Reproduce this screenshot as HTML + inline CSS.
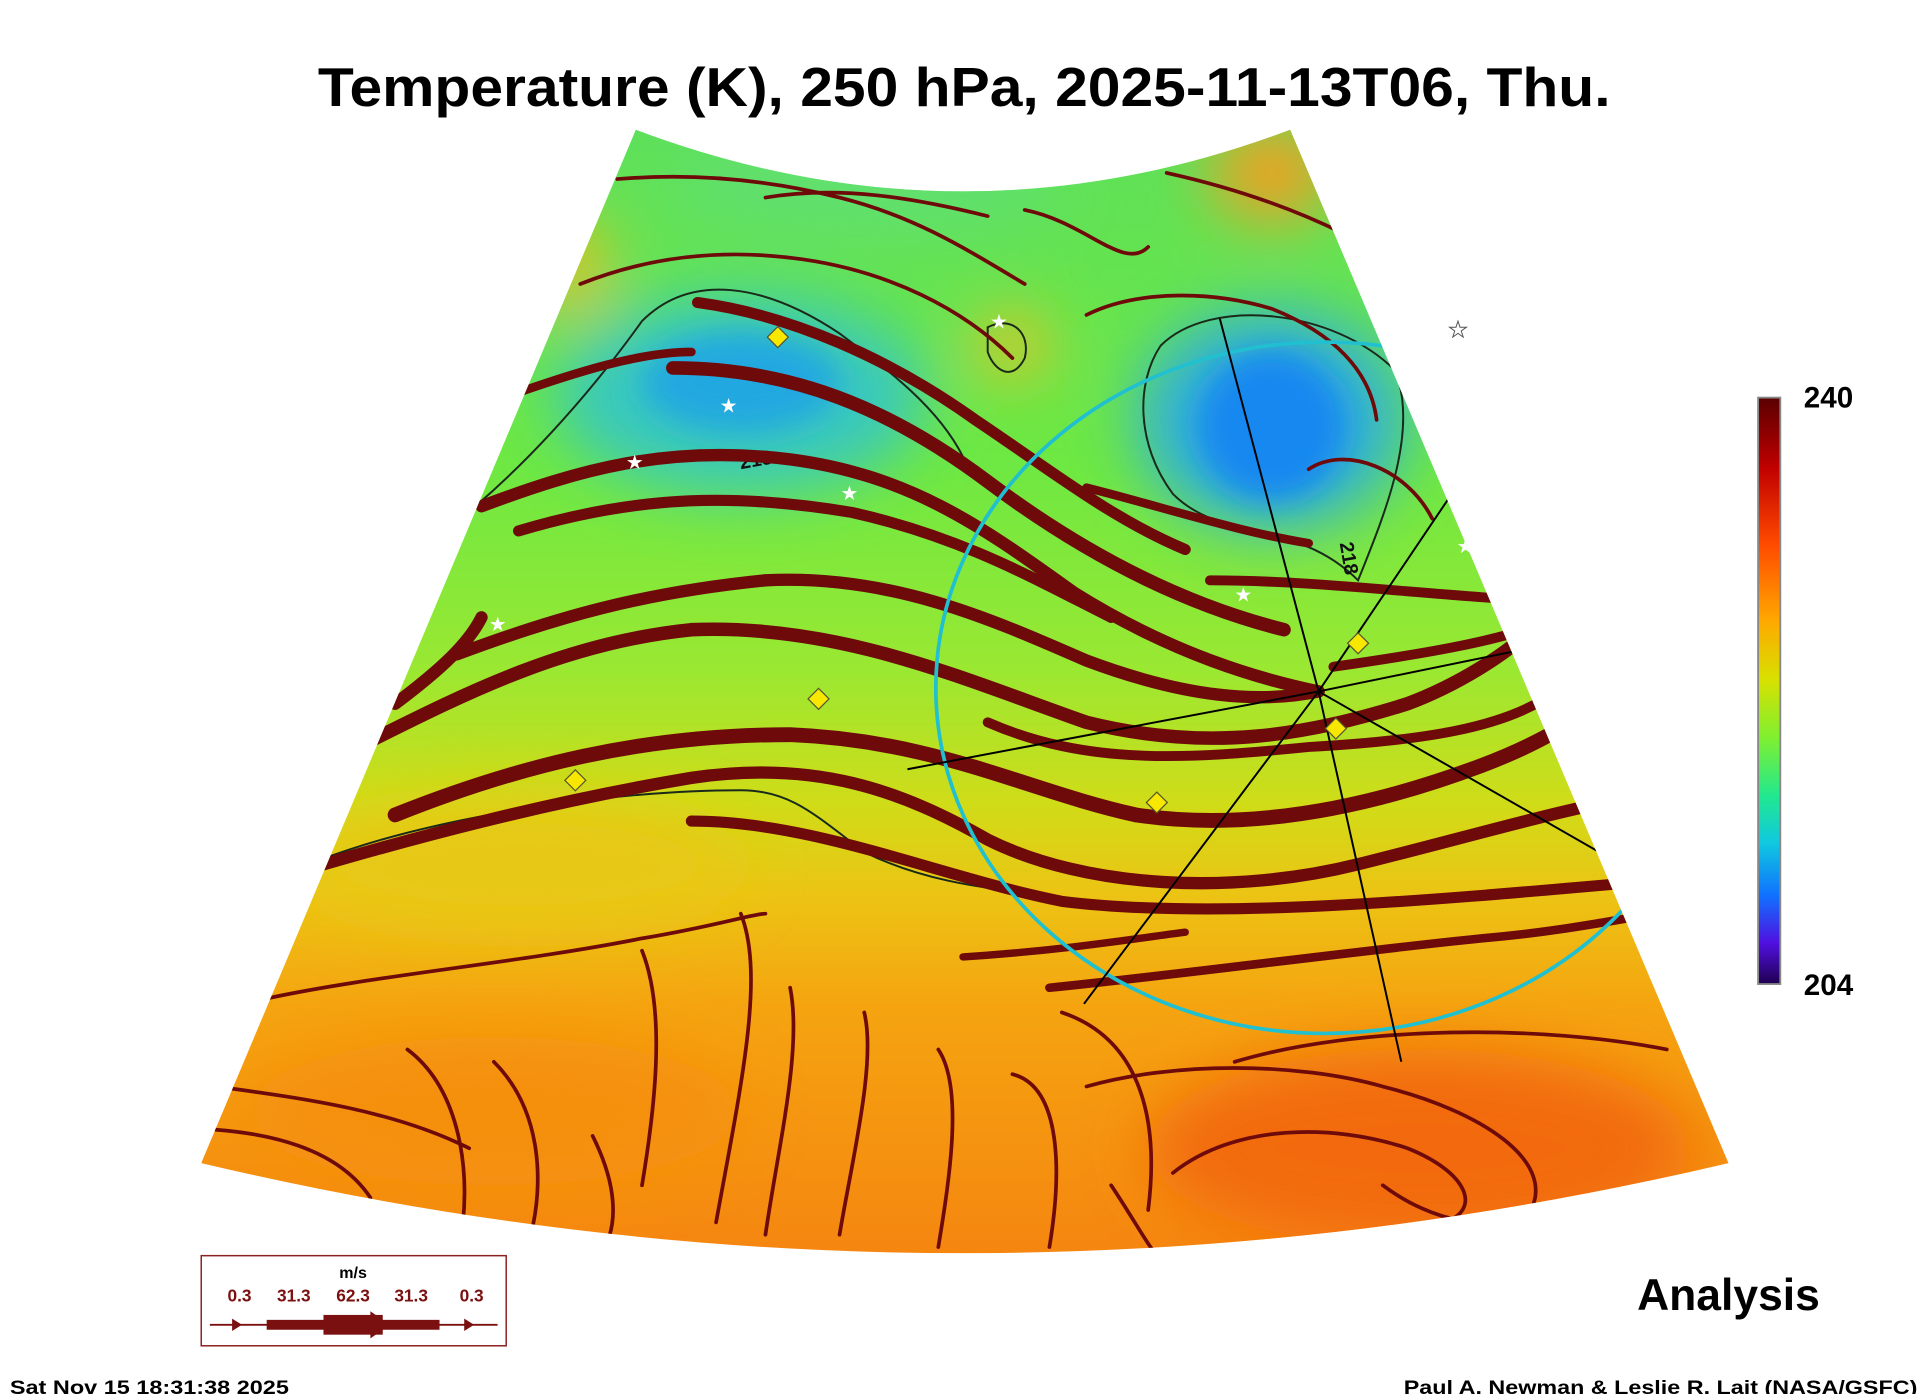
<!DOCTYPE html>
<html><head><meta charset="utf-8"><style>
html,body{margin:0;padding:0;background:#fff;}
svg{display:block;font-family:"Liberation Sans",sans-serif;}
</style></head><body>
<svg width="1926" height="1394" viewBox="0 0 1560 1129" xmlns="http://www.w3.org/2000/svg">
<defs>
<clipPath id="sec"><path d="M515,105 Q780,205 1045,105 L1400,942 Q780,1088 163,942 Z"/></clipPath>
<linearGradient id="bg2" x1="0" y1="105" x2="0" y2="1015" gradientUnits="userSpaceOnUse">
<stop offset="0" stop-color="#5ee05a"/>
<stop offset="0.3" stop-color="#6ee842"/>
<stop offset="0.48" stop-color="#9ae832"/>
<stop offset="0.6" stop-color="#d0dc18"/>
<stop offset="0.68" stop-color="#ecc414"/>
<stop offset="0.78" stop-color="#f5a410"/>
<stop offset="1" stop-color="#f58610"/>
</linearGradient>
<linearGradient id="cb" x1="0" y1="0" x2="0" y2="1">
<stop offset="0" stop-color="#5a0000"/>
<stop offset="0.12" stop-color="#c00000"/>
<stop offset="0.25" stop-color="#ff4a00"/>
<stop offset="0.38" stop-color="#ffa800"/>
<stop offset="0.48" stop-color="#d8e000"/>
<stop offset="0.58" stop-color="#80f030"/>
<stop offset="0.68" stop-color="#20e890"/>
<stop offset="0.76" stop-color="#10c8e0"/>
<stop offset="0.85" stop-color="#1070ff"/>
<stop offset="0.93" stop-color="#5010e0"/>
<stop offset="1" stop-color="#200050"/>
</linearGradient>
<filter id="blur" x="-50%" y="-50%" width="200%" height="200%"><feGaussianBlur stdDeviation="25"/></filter>
<filter id="blur2" x="-50%" y="-50%" width="200%" height="200%"><feGaussianBlur stdDeviation="12"/></filter>
</defs>

<text x="781" y="86" text-anchor="middle" font-size="44" font-weight="bold" textLength="1047" lengthAdjust="spacingAndGlyphs">Temperature (K), 250 hPa, 2025-11-13T06, Thu.</text>

<g clip-path="url(#sec)">
<rect x="150" y="100" width="1260" height="1000" fill="url(#bg2)"/>
<g filter="url(#blur)">
<ellipse cx="600" cy="320" rx="150" ry="80" fill="#38c8c0"/>
<ellipse cx="1030" cy="340" rx="110" ry="90" fill="#30b0d8"/>
<ellipse cx="820" cy="280" rx="30" ry="25" fill="#f0c020"/>
<ellipse cx="1150" cy="930" rx="220" ry="80" fill="#f26a10"/>
<ellipse cx="400" cy="900" rx="200" ry="60" fill="#f59010"/>
<ellipse cx="700" cy="150" rx="160" ry="40" fill="#60e070"/>
<ellipse cx="1030" cy="140" rx="50" ry="40" fill="#f0a020"/>
<ellipse cx="460" cy="215" rx="30" ry="40" fill="#e8c020"/>
<ellipse cx="420" cy="700" rx="180" ry="50" fill="#e8c818"/>
</g>
<g filter="url(#blur2)">
<ellipse cx="600" cy="310" rx="80" ry="40" fill="#20a8e0"/>
<ellipse cx="1030" cy="345" rx="60" ry="60" fill="#1888f0"/>
</g>

<g fill="none" stroke="#1a2a1a" stroke-width="1.6">
<path d="M385,410 C420,380 470,330 520,260 C560,220 620,230 680,270 C720,300 760,330 780,370"/>
<path d="M940,280 C980,240 1080,250 1130,300 C1150,350 1120,420 1100,470 C1050,420 990,440 950,400 C920,360 920,310 940,280Z"/>
<path d="M800,265 C820,255 835,270 830,290 C820,310 805,300 800,285Z"/>
<path d="M250,700 C350,660 500,640 600,640 C640,640 660,660 700,690 C760,720 820,720 880,730"/>
</g>
<text x="600" y="380" font-size="16" font-weight="bold" fill="#111" transform="rotate(-10 600 380)">218</text>
<text x="1085" y="440" font-size="16" font-weight="bold" fill="#111" transform="rotate(80 1085 440)">218</text>

<g fill="none" stroke="#6e0a0a" stroke-width="3" stroke-linecap="round">
<path d="M500,145 C560,140 620,145 680,160 C740,175 780,200 830,230"/>
<path d="M620,160 C680,150 740,160 800,175"/>
<path d="M830,170 C880,180 910,220 930,200"/>
<path d="M945,140 C990,150 1040,165 1090,190"/>
<path d="M470,230 C520,210 580,200 650,210 C720,220 780,250 820,290"/>
<path d="M880,255 C920,235 980,235 1030,250 C1080,270 1110,300 1115,340"/>
<path d="M1060,380 C1090,360 1140,380 1160,420"/>
<path d="M210,810 C300,790 420,780 520,760 C580,750 610,740 620,740"/>
<path d="M175,880 C250,890 320,900 380,930"/>
<path d="M175,915 C240,920 280,940 300,970"/>
<path d="M330,850 C370,880 380,940 375,990"/>
<path d="M400,860 C440,900 440,960 430,1000"/>
<path d="M520,770 C540,820 530,900 520,960"/>
<path d="M600,740 C620,790 600,880 580,990"/>
<path d="M640,800 C650,850 630,930 620,1000"/>
<path d="M700,820 C710,860 690,940 680,1000"/>
<path d="M760,850 C780,880 770,950 760,1010"/>
<path d="M820,870 C860,880 860,950 850,1010"/>
<path d="M860,820 C920,840 940,900 930,980"/>
<path d="M880,880 C950,860 1050,860 1120,880 C1200,900 1260,940 1240,980 C1210,1000 1160,990 1120,960"/>
<path d="M950,950 C1000,910 1080,910 1140,930 C1190,950 1200,980 1170,990"/>
<path d="M1000,860 C1100,830 1250,830 1350,850"/>
<path d="M900,960 C920,990 930,1010 940,1020"/>
<path d="M480,920 C500,960 500,990 490,1010"/>
</g>

<g fill="none" stroke="#6e0a0a" stroke-linecap="round">
<path stroke-width="9" d="M565,245 C640,255 720,290 790,340 C850,380 900,420 960,445"/>
<path stroke-width="11" d="M545,298 C640,298 720,330 800,390 C880,450 960,490 1040,510"/>
<path stroke-width="7" d="M408,322 C470,300 520,285 560,285"/>
<path stroke-width="10" d="M390,410 C470,380 540,360 640,372 C740,385 800,430 870,480 C950,530 1020,550 1068,560"/>
<path stroke-width="9" d="M420,430 C520,400 600,400 690,415 C780,435 840,470 900,500"/>
<path stroke-width="10" d="M370,530 C450,500 520,480 620,470 C720,465 800,500 880,535 C960,565 1020,570 1068,560"/>
<path stroke-width="11" d="M300,600 C380,560 460,520 560,510 C680,505 780,550 880,585 C980,610 1060,595 1140,570 C1180,555 1220,530 1240,510"/>
<path stroke-width="10" d="M320,570 C360,540 380,520 390,500"/>
<path stroke-width="12" d="M320,660 C420,620 520,595 640,595 C760,600 830,640 920,660 C1020,675 1120,650 1200,620 C1240,605 1265,590 1280,580"/>
<path stroke-width="10" d="M245,705 C330,680 440,650 560,630 C660,615 730,640 800,680 C880,720 1000,725 1100,700 C1180,680 1250,660 1300,650"/>
<path stroke-width="9" d="M560,665 C660,665 760,710 860,730 C980,745 1150,730 1320,715"/>
<path stroke-width="8" d="M800,585 C880,620 960,615 1060,605 C1150,600 1220,590 1260,560"/>
<path stroke-width="8" d="M980,470 C1060,470 1140,480 1220,485"/>
<path stroke-width="8" d="M1080,540 C1150,530 1210,520 1250,505"/>
<path stroke-width="7" d="M850,800 C950,790 1100,770 1200,760 C1260,755 1310,745 1340,740"/>
<path stroke-width="6" d="M780,775 C860,770 920,760 960,755"/>
<path stroke-width="7" d="M880,395 C940,410 1000,430 1060,440"/>
</g>

<ellipse cx="1073" cy="557" rx="315" ry="280" fill="none" stroke="#20c0d0" stroke-width="3"/>
<g stroke="#000" stroke-width="1.6">
<line x1="1068" y1="560" x2="988" y2="258"/>
<line x1="1068" y1="560" x2="1250" y2="290"/>
<line x1="1068" y1="560" x2="1400" y2="492"/>
<line x1="1068" y1="560" x2="1365" y2="730"/>
<line x1="1068" y1="560" x2="1135" y2="860"/>
<line x1="1068" y1="560" x2="878" y2="813"/>
<line x1="1068" y1="560" x2="735" y2="623"/>
</g>
<g fill="#f8e800" stroke="#553" stroke-width="1">
<rect x="-6" y="-6" width="12" height="12" transform="translate(630,273) rotate(45)"/>
<rect x="-6" y="-6" width="12" height="12" transform="translate(663,566) rotate(45)"/>
<rect x="-6" y="-6" width="12" height="12" transform="translate(466,632) rotate(45)"/>
<rect x="-6" y="-6" width="12" height="12" transform="translate(1082,590) rotate(45)"/>
<rect x="-6" y="-6" width="12" height="12" transform="translate(937,650) rotate(45)"/>
<rect x="-6" y="-6" width="12" height="12" transform="translate(1100,521) rotate(45)"/>
</g>
<g fill="#fff" font-size="16" text-anchor="middle">
<text x="809" y="266">★</text><text x="590" y="334">★</text><text x="514" y="380">★</text>
<text x="688" y="405">★</text><text x="403" y="511">★</text><text x="1007" y="487">★</text>
<text x="1187" y="448">★</text>
</g>
</g>
<text x="1181" y="273" font-size="18" fill="#fff" stroke="#555" stroke-width="0.8" text-anchor="middle">★</text>

<rect x="1424" y="322" width="18" height="475" fill="url(#cb)" stroke="#888" stroke-width="1.5"/>
<text x="1461" y="330" font-size="24" font-weight="bold">240</text>
<text x="1461" y="806" font-size="24" font-weight="bold">204</text>

<rect x="163" y="1017" width="247" height="73" fill="#fff" stroke="#8b2020" stroke-width="1.2"/>
<text x="286" y="1035" font-size="13" font-weight="bold" text-anchor="middle">m/s</text>
<g font-size="14" font-weight="bold" fill="#7a1010" text-anchor="middle">
<text x="194" y="1054">0.3</text><text x="238" y="1054">31.3</text><text x="286" y="1054">62.3</text><text x="333" y="1054">31.3</text><text x="382" y="1054">0.3</text>
</g>
<line x1="170" y1="1073" x2="403" y2="1073" stroke="#7a1010" stroke-width="1.5"/>
<rect x="216" y="1069" width="140" height="8" fill="#7a1010"/>
<rect x="262" y="1065" width="48" height="16" fill="#7a1010"/>
<path d="M300,1062 L316,1073 L300,1084Z M188,1068 L196,1073 L188,1078Z M376,1068 L384,1073 L376,1078Z" fill="#7a1010"/>

<text x="1400" y="1061" font-size="36" font-weight="bold" text-anchor="middle">Analysis</text>
<text x="8" y="1129" font-size="16" font-weight="bold" textLength="226" lengthAdjust="spacingAndGlyphs">Sat Nov 15 18:31:38 2025</text>
<text x="1137" y="1129" font-size="16" font-weight="bold" textLength="416" lengthAdjust="spacingAndGlyphs">Paul A. Newman &amp; Leslie R. Lait (NASA/GSFC)</text>
</svg>
</body></html>
